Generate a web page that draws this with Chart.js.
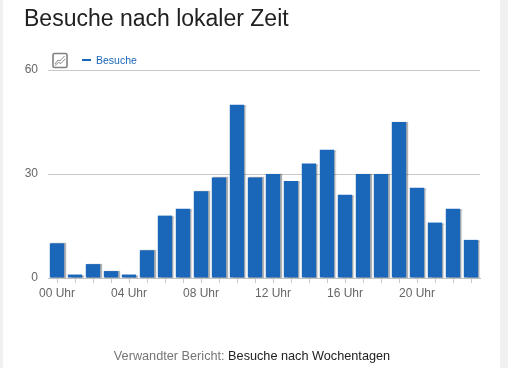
<!DOCTYPE html>
<html lang="de">
<head>
<meta charset="utf-8">
<title>Besuche nach lokaler Zeit</title>
<script src="https://cdn.jsdelivr.net/npm/chart.js@4"></script>
<style>
    html, body { margin: 0; padding: 0; width: 508px; height: 368px; overflow: hidden; background: #f0f0f1; font-family: "Liberation Sans", Arial, sans-serif; }
    #card { position: absolute; left: 3px; top: 0; width: 497px; height: 368px; background: #fff; }
    #title { position: absolute; left: 24px; top: 4px; font-size: 23px; line-height: 28px; color: #212121; white-space: nowrap; }
    #chartBox { position: absolute; left: 0; top: 0; width: 508px; height: 368px; }
    #icon { position: absolute; left: 52px; top: 52px; }
    #legend { position: absolute; left: 82px; top: 54px; font-size: 10.5px; line-height: 13px; color: #1a66b8; }
    #legend i { display: inline-block; width: 9px; height: 2px; background: #1a66b8; vertical-align: 3px; margin-right: 5px; }
    #related { position: absolute; left: 0; width: 504px; top: 349px; text-align: center; font-size: 12.7px; line-height: 14px; color: #757575; white-space: nowrap; }
    #related span { color: #212121; }
</style>
</head>
<body>
<div id="card"></div>
<div id="chartBox"><canvas id="visitsChart" width="508" height="368"></canvas></div>
<div id="title">Besuche nach lokaler Zeit</div>
<svg id="icon" width="16" height="17" viewBox="0 0 16 17">
    <rect x="1" y="1.5" width="14" height="14" rx="1.5" fill="#fff" stroke="#808080" stroke-width="1.6"/>
    <path d="M3 12 L6 8 L8 9 L12.5 4 M3 13.5 L6.5 10.5 L9 11.5 L13 7" fill="none" stroke="#808080" stroke-width="0.9"/>
</svg>
<div id="legend"><i></i>Besuche</div>
<div id="related">Verwandter Bericht: <span>Besuche nach Wochentagen</span></div>
<script>
const hours = ['00 Uhr', '01 Uhr', '02 Uhr', '03 Uhr', '04 Uhr', '05 Uhr', '06 Uhr', '07 Uhr', '08 Uhr', '09 Uhr', '10 Uhr', '11 Uhr',
    '12 Uhr', '13 Uhr', '14 Uhr', '15 Uhr', '16 Uhr', '17 Uhr', '18 Uhr', '19 Uhr', '20 Uhr', '21 Uhr', '22 Uhr', '23 Uhr'];
const visits = [10, 1, 4, 2, 1, 8, 18, 20, 25, 29, 50, 29, 30, 28, 33, 37, 24, 30, 30, 45, 26, 16, 20, 11];
const yTicks = [0, 30, 60];

// small shadow on the right side of each bar, like the original
const barShadow = {
    id: 'barShadow',
    beforeDatasetsDraw(chart) {
        const ctx = chart.ctx;
        ctx.save();
        ctx.shadowColor = 'rgba(0, 0, 0, 0.3)';
        ctx.shadowOffsetX = 1.5;
        ctx.shadowOffsetY = 0;
        ctx.shadowBlur = 1;
    },
    afterDatasetsDraw(chart) {
        chart.ctx.restore();
    }
};

new Chart(document.getElementById('visitsChart').getContext('2d'), {
    type: 'bar',
    data: {
        labels: hours,
        datasets: [{
            label: 'Besuche',
            data: visits,
            backgroundColor: '#1a66b8',
            borderWidth: 0,
            barPercentage: 1,
            categoryPercentage: 0.8
        }]
    },
    options: {
        responsive: false,
        animation: false,
        layout: { padding: { left: 0, right: 28, top: 70, bottom: 68 } },
        plugins: {
            legend: { display: false },
            tooltip: { enabled: false }
        },
        scales: {
            x: {
                offset: true,
                afterFit(axis) { axis.height = 22; },
                grid: { display: true, drawOnChartArea: false, offset: false, tickLength: 5, tickColor: '#c8c8c8', color: '#c8c8c8' },
                border: { color: '#c0c0c0' },
                ticks: {
                    autoSkip: false,
                    maxRotation: 0,
                    padding: 3,
                    color: '#666',
                    font: { family: 'Liberation Sans', size: 12 },
                    callback(value, index) { return index % 4 === 0 ? hours[index] : ''; }
                }
            },
            y: {
                min: 0,
                max: 60,
                afterFit(axis) { axis.width = 48; },
                afterBuildTicks(axis) { axis.ticks = yTicks.map(v => ({ value: v })); },
                grid: { color: '#c8c8c8', drawTicks: false },
                border: { display: false },
                ticks: {
                    padding: 10,
                    color: '#666',
                    font: { family: 'Liberation Sans', size: 12 }
                }
            }
        }
    },
    plugins: [barShadow]
});
</script>
</body>
</html>
